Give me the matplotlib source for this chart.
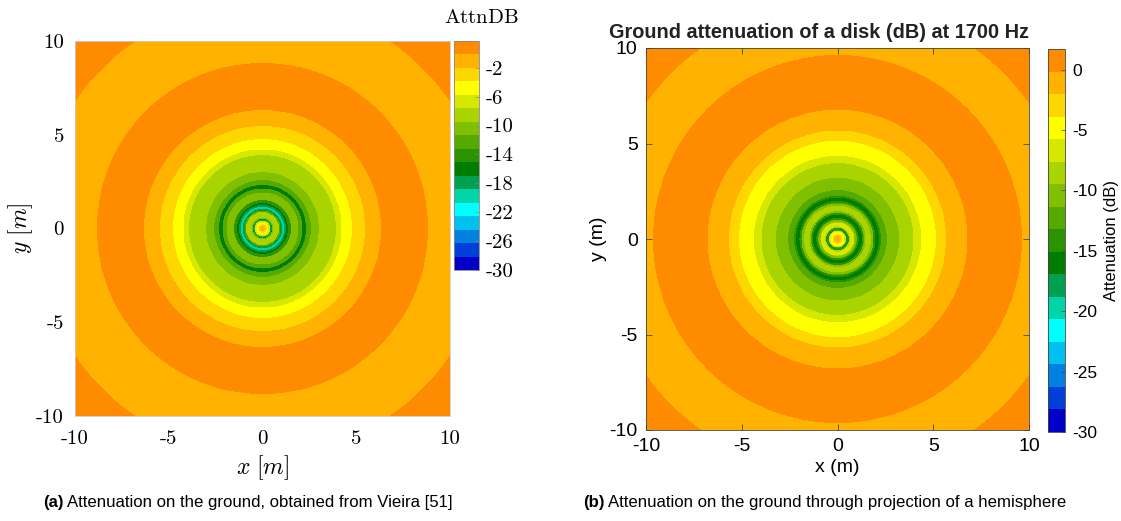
import numpy as np
import matplotlib
matplotlib.use("Agg")
import matplotlib.pyplot as plt
from matplotlib.colors import ListedColormap

plt.rcParams['mathtext.fontset'] = 'cm'
plt.rcParams['axes.unicode_minus'] = False

# Colour bands shared by both maps (17 steps from -30 dB up to the max)
band_colors = ['#FF8C00', '#FFB300', '#FFD700', '#FFFF00', '#D6E800', '#AAD400',
               '#80C000', '#55AA00', '#2A9400', '#007D00', '#00A050', '#00D4A8',
               '#00FFFF', '#00C0F0', '#0080E0', '#0040D8', '#0000C8'][::-1]
level_min = -30.0
level_max = 1.7

# Ring outer radius (m) and attenuation (dB) inside each ring, Vieira result
rings_a_radius = [0.12, 0.20, 0.30, 0.40, 0.44, 0.50, 0.54, 0.62, 0.85, 0.95,
                  1.02, 1.20, 1.28, 1.38, 1.55, 1.90, 2.10, 2.35, 2.60, 3.04,
                  3.95, 4.25, 4.80, 5.50, 6.35, 8.80, 12.10, 15.0]
rings_a_db = [-1.1, -3.0, -4.8, -6.7, -17.9, -19.7, -17.9, -10.4, -8.5, -12.3,
              -17.9, -19.7, -17.9, -16.0, -14.1, -10.4, -12.3, -16.0, -12.3, -10.4,
              -8.5, -6.7, -4.8, -3.0, -1.1, 0.8, -1.1, 0.8]

# Same for the projected hemisphere
rings_b_radius = [0.14, 0.22, 0.35, 0.42, 0.46, 0.56, 0.62, 0.68, 0.85, 0.98,
                  1.08, 1.30, 1.40, 1.50, 1.72, 1.85, 1.95, 2.20, 2.30, 2.60,
                  3.24, 4.00, 4.39, 5.17, 5.70, 6.80, 9.60, 12.30, 15.0]
rings_b_db = [-1.1, -3.0, -4.8, -6.7, -14.1, -17.9, -14.1, -8.5, -6.7, -10.4,
              -14.1, -16.0, -14.1, -10.4, -8.5, -10.4, -14.1, -16.0, -14.1, -12.3,
              -10.4, -8.5, -6.7, -4.8, -3.0, -1.1, 0.8, -1.1, 0.8]

ticks_xy = [-10, -5, 0, 5, 10]
cbar_a_ticks = [-30, -26, -22, -18, -14, -10, -6, -2]
cbar_b_ticks = [-30, -25, -20, -15, -10, -5, 0]


def ring_field(radius, db, n=801):
    x = np.linspace(-10, 10, n)
    X, Y = np.meshgrid(x, x)
    R = np.sqrt(X**2 + Y**2)
    idx = np.searchsorted(np.array(radius), R)
    return X, Y, np.array(db)[idx]


cmap = ListedColormap(band_colors)
levels = np.linspace(level_min, level_max, len(band_colors) + 1)
sans = 'Liberation Sans'

fig = plt.figure(figsize=(11.21, 5.21), dpi=100)

# ---- (a) Vieira ----
ax1 = fig.add_axes([75/1121, 105/521, 375/1121, 375/521])
X, Y, Z = ring_field(rings_a_radius, rings_a_db)
cs1 = ax1.contourf(X, Y, Z, levels=levels, cmap=cmap)
ax1.set_xlim(-10, 10)
ax1.set_ylim(-10, 10)
ax1.set_xticks(ticks_xy)
ax1.set_yticks(ticks_xy)
ax1.set_xticklabels([str(t) for t in ticks_xy], fontfamily='cmr10', fontsize=15)
ax1.set_yticklabels([str(t) for t in ticks_xy], fontfamily='cmr10', fontsize=15)
ax1.tick_params(axis='x', length=0, pad=10)
ax1.tick_params(axis='y', length=0, pad=8)
ax1.set_xlabel(r'$x\ [m]$', fontsize=17, labelpad=4)
ax1.set_ylabel(r'$y\ [m]$', fontsize=17, labelpad=1)
for s in ax1.spines.values():
    s.set_color('#cccccc')
    s.set_linewidth(0.6)

cax1 = fig.add_axes([454/1121, 251/521, 25/1121, 229/521])
cb1 = fig.colorbar(cs1, cax=cax1, ticks=cbar_a_ticks)
cb1.ax.set_yticklabels([str(t) for t in cbar_a_ticks], fontfamily='cmr10', fontsize=15)
cb1.ax.tick_params(length=3, width=0.5, color='#888888', direction='in', pad=5)
cb1.outline.set_edgecolor('#888888')
cb1.outline.set_linewidth(0.6)
fig.text(481/1121, 1 - 17/521, r'$\mathrm{AttnDB}$', ha='center', va='center', fontsize=15)

# ---- (b) projected hemisphere ----
ax2 = fig.add_axes([646/1121, 91/521, 383/1121, 382/521])
X, Y, Z = ring_field(rings_b_radius, rings_b_db)
cs2 = ax2.contourf(X, Y, Z, levels=levels, cmap=cmap)
ax2.set_xlim(-10, 10)
ax2.set_ylim(-10, 10)
ax2.set_xticks(ticks_xy)
ax2.set_yticks(ticks_xy)
ax2.set_xticklabels([str(t) for t in ticks_xy], fontfamily=sans, fontsize=14)
ax2.set_yticklabels([str(t) for t in ticks_xy], fontfamily=sans, fontsize=14)
ax2.tick_params(direction='in', length=4, width=0.6, color='#444444',
                top=True, right=True, pad=6)
ax2.set_xlabel('x (m)', fontfamily=sans, fontsize=14, labelpad=3)
ax2.set_ylabel('y (m)', fontfamily=sans, fontsize=14, labelpad=2)
fig.text(819/1121, 1 - 33/521, 'Ground attenuation of a disk (dB) at 1700 Hz',
         ha='center', va='center', fontfamily=sans, fontsize=14.3,
         fontweight='bold', color='#222222')
for s in ax2.spines.values():
    s.set_color('#444444')
    s.set_linewidth(0.6)

cax2 = fig.add_axes([1048/1121, 89/521, 17/1121, 383/521])
cb2 = fig.colorbar(cs2, cax=cax2, ticks=cbar_b_ticks)
cb2.ax.set_yticklabels([str(t) for t in cbar_b_ticks], fontfamily=sans, fontsize=12.5)
cb2.ax.tick_params(length=3, width=0.5, color='#444444', direction='in', pad=5)
cb2.outline.set_edgecolor('#444444')
cb2.outline.set_linewidth(0.6)
cb2.set_label('Attenuation (dB)', fontfamily=sans, fontsize=12, labelpad=5)

# ---- captions ----
cap_y = 1 - 503/521
fig.text(64/1121, cap_y, '(a)', ha='right', va='center', fontfamily=sans,
         fontsize=12.1, fontweight='bold')
fig.text(67/1121, cap_y, 'Attenuation on the ground, obtained from Vieira [51]',
         ha='left', va='center', fontfamily=sans, fontsize=12.1)
fig.text(605/1121, cap_y, '(b)', ha='right', va='center', fontfamily=sans,
         fontsize=12.1, fontweight='bold')
fig.text(608/1121, cap_y, 'Attenuation on the ground through projection of a hemisphere',
         ha='left', va='center', fontfamily=sans, fontsize=12.1)

fig.savefig('out.png', dpi=100)
